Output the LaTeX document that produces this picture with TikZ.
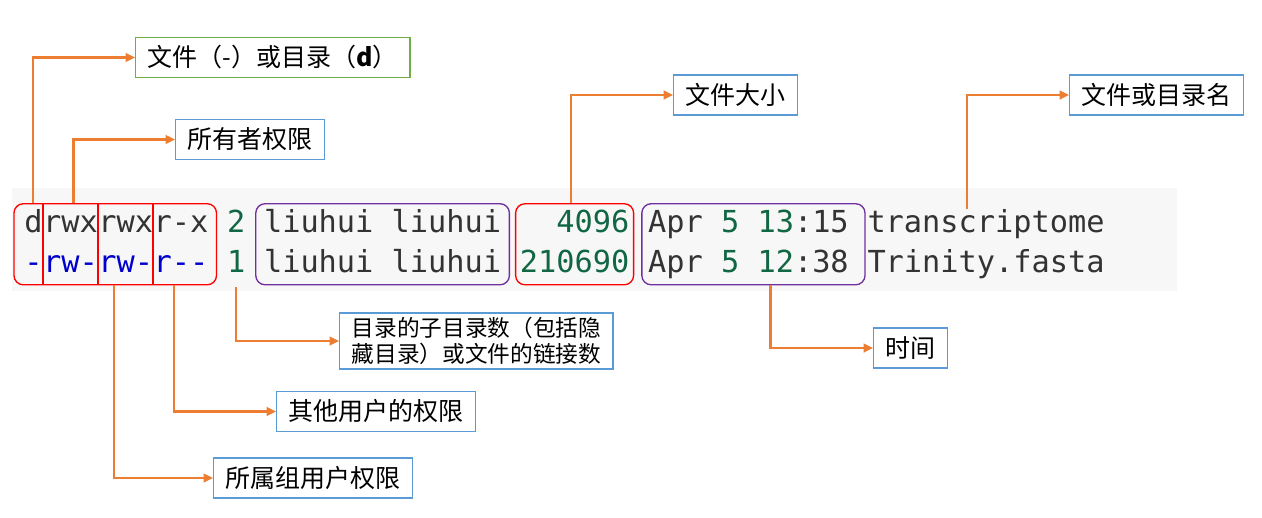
\documentclass[tikz,border=0pt]{standalone}
\usepackage{fontspec}
\newfontfamily\cjk{Noto Sans CJK SC}
\newfontfamily\mono{DejaVu Sans Mono}
\usepackage{tikz}
\usetikzlibrary{positioning,fit,arrows.meta}
\definecolor{lsgray}{RGB}{247,247,247}
\definecolor{lstext}{RGB}{51,51,51}
\definecolor{lsgreen}{RGB}{17,102,68}
\definecolor{lsblue}{RGB}{0,0,204}
\definecolor{lspurple}{RGB}{112,48,160}
\definecolor{myred}{RGB}{255,0,0}
\definecolor{myorange}{RGB}{237,125,49}
\definecolor{myblue}{RGB}{91,155,213}
\definecolor{mygreen}{RGB}{112,173,71}
\newcommand{\gn}[1]{\textcolor{lsgreen}{#1}}
\newcommand{\cw}{13.68pt}

\begin{document}
\begin{tikzpicture}[
  x=0.75pt, y=-0.75pt,
  cell/.style={
    font=\mono\fontsize{22.72pt}{30pt}\selectfont,
    text=lstext,
    inner sep=0pt,
    text height=17pt,
    text depth=5pt
    },
  colbox/.style={
    draw=#1,
    line width=1pt,
    rounded corners=7pt,
    inner xsep=6pt,
    inner ysep=4pt
    },
  note/.style={
    draw=myblue,
    line width=1.1pt,
    font=\cjk\fontsize{18.75pt}{22pt}\selectfont,
    inner xsep=9pt,
    minimum height=30pt,
    anchor=west
    },
  pointer/.style={
    draw=myorange,
    line width=1.6pt,
    -{Triangle[length=7pt,width=6.5pt]}
    }
]
\useasboundingbox (0,0) rectangle (1262,517);

% listing background
\fill[lsgray] (12,188) rectangle (1177,291);

% first line
\node[cell, anchor=base west] (type1) at (24,232) {d};
\node[cell, right=0pt of type1] (own1) {rwx};
\node[cell, right=0pt of own1] (grp1) {rwx};
\node[cell, right=0pt of grp1] (oth1) {r-x};
\node[cell, text=lsgreen, right=\cw of oth1] (links1) {2};
\node[cell, right=\cw of links1] (user1) {liuhui liuhui};
\node[cell, text=lsgreen, right=\cw of user1] (size1) {\phantom{21}4096};
\node[cell, right=\cw of size1] (time1) {Apr \gn{5} \gn{13}:15};
\node[cell, right=\cw of time1] (name1) {transcriptome};

% second line
\node[cell, text=lsblue, below=8pt of type1] (type2) {-};
\node[cell, text=lsblue, right=0pt of type2] (own2) {rw-};
\node[cell, text=lsblue, right=0pt of own2] (grp2) {rw-};
\node[cell, text=lsblue, right=0pt of grp2] (oth2) {r--};
\node[cell, text=lsgreen, right=\cw of oth2] (links2) {1};
\node[cell, right=\cw of links2] (user2) {liuhui liuhui};
\node[cell, text=lsgreen, right=\cw of user2] (size2) {210690};
\node[cell, right=\cw of size2] (time2) {Apr \gn{5} \gn{12}:38};
\node[cell, right=\cw of time2] (name2) {Trinity.fasta};

% column boxes
\coordinate (timeend) at ([xshift=7.5pt]time2.east);
\coordinate (permstart) at ([xshift=-1.5pt]type2.west);
\node[colbox=myred, fit=(type1)(oth2)(permstart)] (permbox) {};
\node[colbox=lspurple, fit=(user1)(user2)] (userbox) {};
\node[colbox=myred, inner xsep=3pt, fit=(size1)(size2)] (sizebox) {};
\node[colbox=lspurple, inner xsep=4.5pt, fit=(time1)(time2)(timeend)] (timebox) {};
\foreach \c in {own1,grp1,oth1}
  \draw[myred, line width=1.5pt] (\c.west |- permbox.north) -- (\c.west |- permbox.south);

% notes
\node[note, draw=mygreen] (typenote) at (135,57.5) {文件（-）或目录（{\bfseries d}）};
\node[note] (ownnote) at (175,139.5) {所有者权限};
\node[note] (sizenote) at (673,95) {文件大小};
\node[note] (namenote) at (1069,95) {文件或目录名};
\node[note, align=left, font=\cjk\fontsize{17pt}{19pt}\selectfont] (linknote) at (339,341)
  {目录的子目录数（包括隐\\藏目录）或文件的链接数};
\node[note] (timenote) at (873,348) {时间};
\node[note] (othnote) at (276,411.5) {其他用户的权限};
\node[note] (grpnote) at (213,478) {所属组用户权限};

% pointers
\draw[pointer] (type1.north |- permbox.north) |- (typenote.west);
\draw[pointer] ([xshift=23pt]own1.west |- permbox.north) |- (ownnote.west);
\draw[pointer] ([xshift=11.7pt]grp2.west |- permbox.south) |- (grpnote.west);
\draw[pointer] ([xshift=15.4pt]oth2.west |- permbox.south) |- (othnote.west);
\draw[pointer] ([yshift=-6pt]links2.south) |- (linknote.west);
\draw[pointer] ([xshift=-3pt]sizebox.north) |- (sizenote.west);
\draw[pointer] ([xshift=12.8pt]timebox.south) |- (timenote.west);
\draw[pointer] ([xshift=-14.5pt]name1.north) |- (namenote.west);

\end{tikzpicture}
\end{document}
